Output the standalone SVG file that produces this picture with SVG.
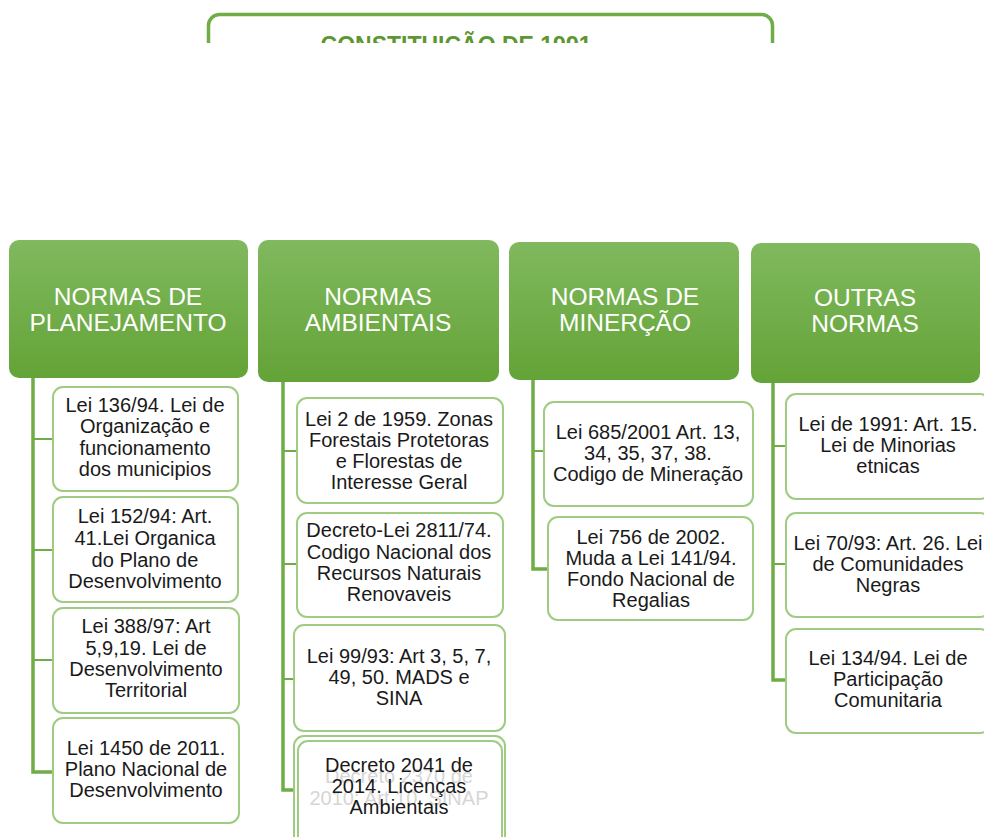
<svg xmlns="http://www.w3.org/2000/svg" width="984" height="837" viewBox="0 0 984 837">
<defs>
<linearGradient id="hg" x1="0" y1="0" x2="0" y2="1">
<stop offset="0" stop-color="#80b95e"/>
<stop offset="1" stop-color="#64a337"/>
</linearGradient>
<clipPath id="titleClip"><rect x="0" y="0" width="984" height="43"/></clipPath>
</defs>
<style>
.hdr{fill:url(#hg);}
.htxt{font-family:"Liberation Sans",Arial,sans-serif;font-size:24.5px;fill:#ffffff;text-anchor:middle;}
.box{fill:#ffffff;stroke:#9fcc82;stroke-width:2;}
.btxt{font-family:"Liberation Sans",Arial,sans-serif;font-size:20px;fill:#1a1a1a;text-anchor:middle;}
.ghost{font-family:"Liberation Sans",Arial,sans-serif;font-size:20px;fill:#d6d6d6;text-anchor:middle;}
.conn{fill:none;stroke:#70ad47;stroke-width:2;}
.spine{fill:none;stroke:#70ad47;stroke-width:3.5;}
</style>
<rect x="0" y="0" width="984" height="837" fill="#ffffff"/>

<g id="title" clip-path="url(#titleClip)">
<rect x="208.5" y="14.5" width="564" height="80" rx="11" fill="#ffffff" stroke="#70ad47" stroke-width="3.5"/>
<text x="456" y="52.5" font-family="'Liberation Sans',Arial,sans-serif" font-size="23" font-weight="bold" fill="#5e9732" text-anchor="middle">CONSTITUIÇÃO DE 1991</text>
</g>

<g id="connectors">
<path class="spine" d="M33 378 V772 H53"/>
<path class="conn" d="M33 439 H53 M33 550 H53 M33 660 H53"/>
<path class="spine" d="M283 382 V790 H298"/>
<path class="conn" d="M283 451 H297 M283 564 H297 M283 679 H294"/>
<path class="spine" d="M533 380 V569 H548"/>
<path class="conn" d="M533 451 H544"/>
<path class="spine" d="M773 383 V680 H786"/>
<path class="conn" d="M773 446 H786 M773 564 H786"/>
</g>

<g id="h1"><rect class="hdr" x="9" y="240" width="239" height="138" rx="10"/>
<text class="htxt" x="128" y="305">NORMAS DE</text><text class="htxt" x="128" y="331">PLANEJAMENTO</text></g>
<g id="h2"><rect class="hdr" x="258" y="240" width="241" height="142" rx="10"/>
<text class="htxt" x="378" y="305">NORMAS</text><text class="htxt" x="378" y="331">AMBIENTAIS</text></g>
<g id="h3"><rect class="hdr" x="509" y="242" width="230" height="138" rx="10"/>
<text class="htxt" x="625" y="305">NORMAS DE</text><text class="htxt" x="625" y="331">MINERÇÃO</text></g>
<g id="h4"><rect class="hdr" x="751" y="243" width="229" height="140" rx="10"/>
<text class="htxt" x="865" y="306">OUTRAS</text><text class="htxt" x="865" y="332">NORMAS</text></g>

<g id="c1b1"><rect class="box" x="53" y="387" width="185" height="104" rx="10"/>
<text class="btxt" x="145" y="412">Lei 136/94. Lei de</text><text class="btxt" x="145" y="433">Organização e</text><text class="btxt" x="145" y="455">funcionamento</text><text class="btxt" x="145" y="476">dos municipios</text></g>
<g id="c1b2"><rect class="box" x="53" y="497" width="185" height="105" rx="10"/>
<text class="btxt" x="145" y="523">Lei 152/94: Art.</text><text class="btxt" x="145" y="545">41.Lei Organica</text><text class="btxt" x="145" y="567">do Plano de</text><text class="btxt" x="145" y="588">Desenvolvimento</text></g>
<g id="c1b3"><rect class="box" x="53" y="608" width="186" height="105" rx="10"/>
<text class="btxt" x="146" y="633">Lei 388/97: Art</text><text class="btxt" x="146" y="655">5,9,19. Lei de</text><text class="btxt" x="146" y="676">Desenvolvimento</text><text class="btxt" x="146" y="697">Territorial</text></g>
<g id="c1b4"><rect class="box" x="53" y="718" width="186" height="105" rx="10"/>
<text class="btxt" x="146" y="755">Lei 1450 de 2011.</text><text class="btxt" x="146" y="776">Plano Nacional de</text><text class="btxt" x="146" y="797">Desenvolvimento</text></g>

<g id="c2b1"><rect class="box" x="297" y="398" width="206" height="105" rx="10"/>
<text class="btxt" x="399" y="426">Lei 2 de 1959. Zonas</text><text class="btxt" x="399" y="447">Forestais Protetoras</text><text class="btxt" x="399" y="468">e Florestas de</text><text class="btxt" x="399" y="489">Interesse Geral</text></g>
<g id="c2b2"><rect class="box" x="297" y="513" width="206" height="104" rx="10"/>
<text class="btxt" x="399" y="537">Decreto-Lei 2811/74.</text><text class="btxt" x="399" y="559">Codigo Nacional dos</text><text class="btxt" x="399" y="580">Recursos Naturais</text><text class="btxt" x="399" y="601">Renovaveis</text></g>
<g id="c2b3"><rect class="box" x="294" y="625" width="211" height="106" rx="10"/>
<text class="btxt" x="399" y="663">Lei 99/93: Art 3, 5, 7,</text><text class="btxt" x="399" y="684">49, 50. MADS e</text><text class="btxt" x="399" y="705">SINA</text></g>
<g id="c2b4"><rect class="box" x="294" y="736" width="211" height="112" rx="10"/>
<rect class="box" x="298" y="741" width="204" height="112" rx="10" fill="none"/>
<text class="ghost" x="399" y="783">Decreto 2370 de</text><text class="ghost" x="399" y="805">2010: Art 10. SINAP</text>
<text class="btxt" x="399" y="772">Decreto 2041 de</text><text class="btxt" x="399" y="793">2014. Licenças</text><text class="btxt" x="399" y="814">Ambientais</text></g>

<g id="c3b1"><rect class="box" x="544" y="402" width="209" height="104" rx="10"/>
<text class="btxt" x="648" y="439">Lei 685/2001 Art. 13,</text><text class="btxt" x="648" y="460">34, 35, 37, 38.</text><text class="btxt" x="648" y="481">Codigo de Mineração</text></g>
<g id="c3b2"><rect class="box" x="548" y="517" width="205" height="103" rx="10"/>
<text class="btxt" x="651" y="544">Lei 756 de 2002.</text><text class="btxt" x="651" y="565">Muda a Lei 141/94.</text><text class="btxt" x="651" y="586">Fondo Nacional de</text><text class="btxt" x="651" y="607">Regalias</text></g>

<g id="c4b1"><rect class="box" x="786" y="394" width="204" height="105" rx="10"/>
<text class="btxt" x="888" y="431">Lei de 1991: Art. 15.</text><text class="btxt" x="888" y="452">Lei de Minorias</text><text class="btxt" x="888" y="473">etnicas</text></g>
<g id="c4b2"><rect class="box" x="786" y="513" width="204" height="104" rx="10"/>
<text class="btxt" x="888" y="550">Lei 70/93: Art. 26. Lei</text><text class="btxt" x="888" y="571">de Comunidades</text><text class="btxt" x="888" y="592">Negras</text></g>
<g id="c4b3"><rect class="box" x="786" y="629" width="204" height="104" rx="10"/>
<text class="btxt" x="888" y="665">Lei 134/94. Lei de</text><text class="btxt" x="888" y="686">Participação</text><text class="btxt" x="888" y="707">Comunitaria</text></g>
</svg>
